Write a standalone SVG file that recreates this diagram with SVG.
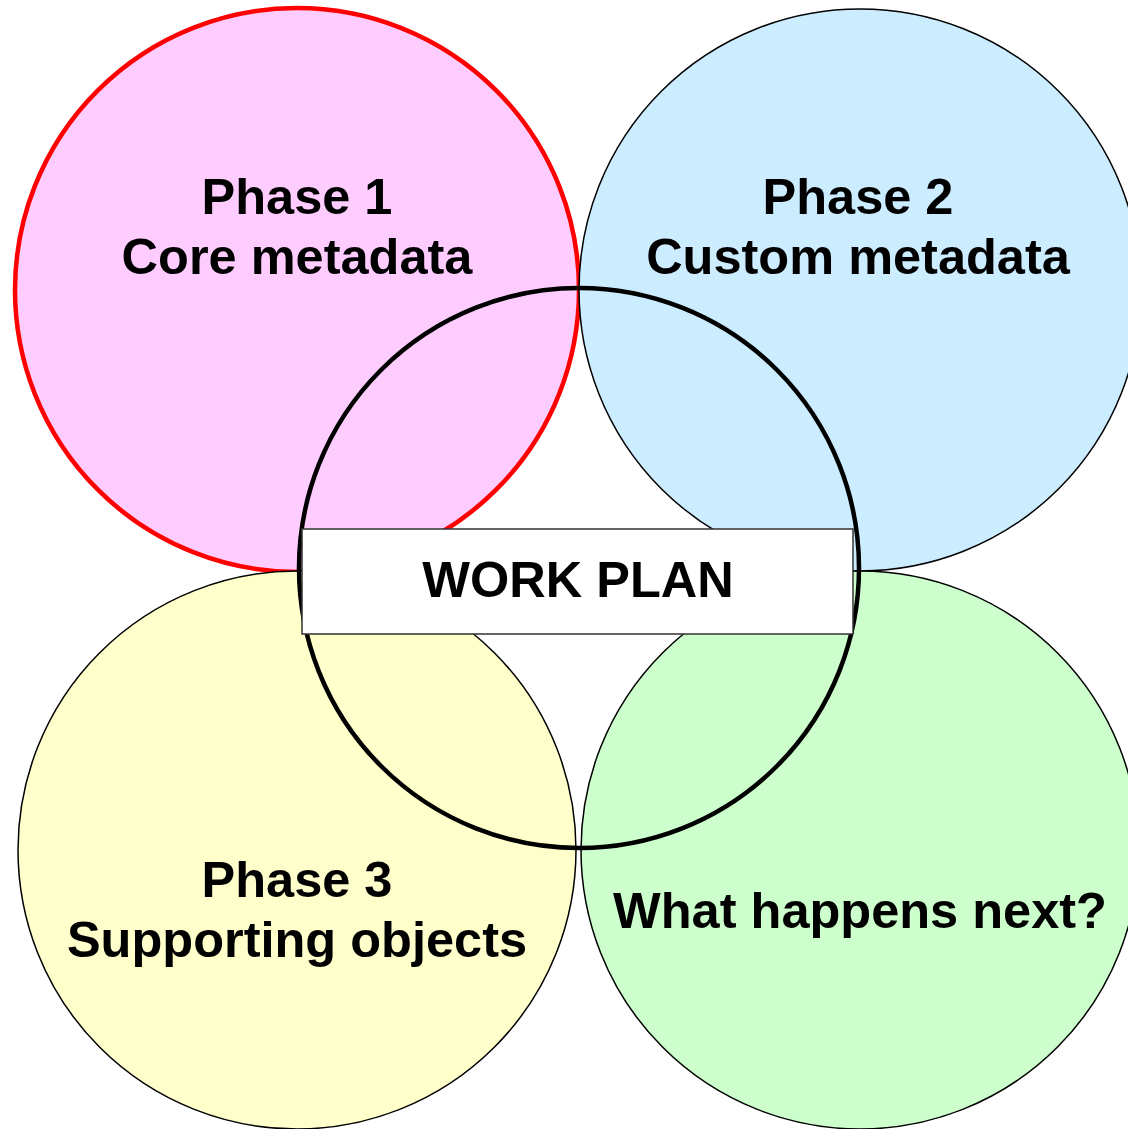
<svg xmlns="http://www.w3.org/2000/svg" width="1128" height="1129" viewBox="0 0 1128 1129">
<style>
.lbl{font-family:"Liberation Sans",Arial,sans-serif;font-weight:bold;font-size:50.5px;fill:#000;text-anchor:middle}
.ph{stroke:#000;stroke-width:1.5}
</style>
<rect width="1128" height="1129" fill="#fff"/>
<g id="phase1">
<circle cx="297" cy="290" r="282" fill="#FFCCFF" stroke="#FF0000" stroke-width="4.5"/>
</g>
<g id="phase2">
<circle class="ph" cx="860" cy="290" r="281" fill="#CCECFF"/>
</g>
<g id="phase3">
<circle class="ph" cx="297" cy="850" r="279" fill="#FFFFCC"/>
</g>
<g id="next">
<circle class="ph" cx="860" cy="850" r="279" fill="#CCFFCC"/>
</g>
<g id="workplan">
<circle cx="579" cy="568" r="280" fill="none" stroke="#000" stroke-width="4.5"/>
<rect x="302" y="529" width="551" height="105" fill="#fff" stroke="#333" stroke-width="1.5"/>
<text class="lbl" x="578" y="597">WORK PLAN</text>
</g>
<g id="labels">
<text class="lbl" x="297" y="214">Phase 1</text>
<text class="lbl" x="297" y="274">Core metadata</text>
<text class="lbl" x="858" y="214">Phase 2</text>
<text class="lbl" x="858" y="274">Custom metadata</text>
<text class="lbl" x="297" y="897">Phase 3</text>
<text class="lbl" x="297" y="957">Supporting objects</text>
<text class="lbl" x="860" y="928">What happens next?</text>
</g>
</svg>
